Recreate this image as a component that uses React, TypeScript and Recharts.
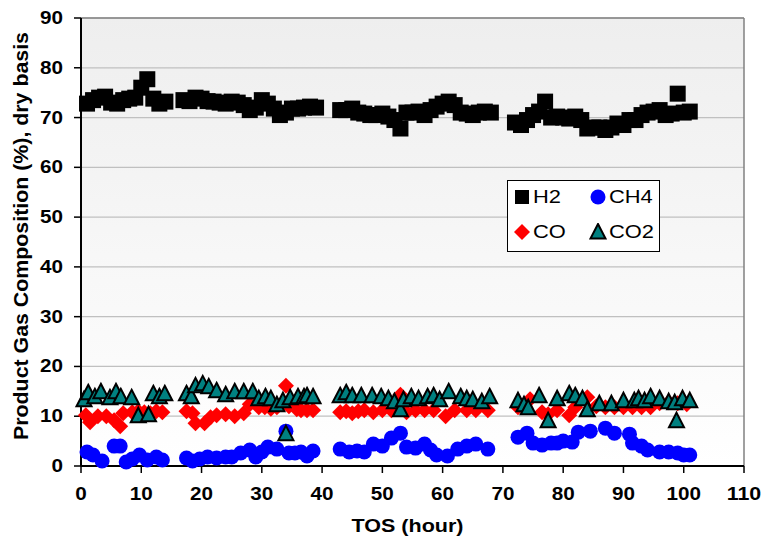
import { ScatterChart, Scatter, XAxis, YAxis, CartesianGrid, Legend, ReferenceLine } from 'recharts';

const FONT = '"Liberation Sans", Arial, sans-serif';

const h2Hours = [1, 2, 3, 4, 5, 6, 7, 8, 9, 10, 11, 12, 13, 14,
    17, 18, 19, 20, 21, 22, 23, 24, 25, 26, 27, 28, 29, 30, 31, 32, 33, 34, 35, 36, 37, 38, 39,
    43, 44, 45, 46, 47, 48, 49, 50, 51, 52, 53, 54, 55, 56, 57, 58, 59, 60, 61, 62, 63, 64, 65, 66, 67, 68,
    72, 73, 74, 75, 76, 77, 78, 79, 80, 81, 82, 83, 84, 85, 86, 87, 88, 89, 90, 91, 92, 93, 94, 95, 96, 97, 98, 99, 100, 101];
const h2Values = [72.8, 73.5, 74, 74.2, 73, 72.8, 73.5, 73.8, 74, 76, 77.7, 73.8, 72.8, 73.2,
    73.5, 73.3, 74, 73.8, 73.3, 73.2, 73, 72.8, 73.2, 73, 72.5, 71.5, 72, 73.5, 72.8, 71.8, 70.5, 71, 71.8, 71.8, 72, 72.2, 72,
    71.5, 71.5, 71.8, 71, 70.8, 70.5, 70.5, 70.8, 70.2, 69.5, 67.8, 71, 71, 71.2, 70.5, 71.5, 72.2, 72.8, 73.2, 72.5, 71, 70.8, 70.5, 71, 71.2, 71,
    69, 68.5, 69.5, 70.5, 71.2, 73.2, 70, 70.2, 70, 69.8, 70.2, 69.5, 67.8, 68, 68, 67.5, 68, 68.8, 68.5, 69.5, 69.5, 70.5, 71, 71.2, 71.5, 70.5, 70.8, 74.8, 71, 71.2];

const ch4Hours = [1, 2, 3.5, 5.5, 6.5, 7.5, 8.5, 9.7, 11, 12.5, 13.5,
    17.5, 18.5, 19.7, 21, 22.5, 24, 25, 26.5, 28, 29, 30, 31, 32.5, 34, 34.5, 35.5, 36.5, 37.5, 38.5,
    43, 44.5, 45.8, 47, 48.5, 50, 51.5, 53, 54, 55.5, 57, 58, 59, 60.8, 62.5, 64, 65.5, 67.5,
    72.5, 74, 75, 76.5, 78, 79, 80, 81.5, 82.5, 84.5, 87, 88.5, 91, 91.5, 93, 94, 96, 97.5, 99, 100, 101];
const ch4Values = [2.8, 2.2, 1.0, 4, 4, 0.8, 1.4, 2.2, 1.2, 1.8, 1.2,
    1.6, 1.0, 1.4, 1.8, 1.6, 1.8, 1.8, 2.6, 3.2, 1.8, 2.8, 3.8, 3.4, 7.0, 2.6, 2.6, 2.8, 2.0, 3.0,
    3.4, 2.8, 3.0, 2.8, 4.4, 4.0, 5.6, 6.6, 3.8, 3.6, 4.4, 3.2, 2.2, 2.0, 3.4, 4.0, 4.4, 3.4,
    5.8, 6.6, 4.6, 4.2, 4.6, 4.6, 5.0, 4.8, 6.8, 7.0, 7.6, 6.6, 6.4, 4.6, 4.0, 3.2, 2.8, 2.8, 2.6, 2.2, 2.2];

const coHours = [0.8, 1.5, 2.8, 4.2, 5.5, 6.5, 7, 8.5, 9.5, 10.5, 11.5, 12.5, 13.5,
    17.5, 18.5, 19, 20.5, 21.5, 22.5, 24, 25.5, 27, 28, 29.5, 30.5, 31.5, 32.5, 34, 34.5, 35.8, 36.5, 37.5, 38.5,
    43, 44, 45, 46, 47, 48.5, 50, 51.5, 53, 54, 55.5, 57, 58.5, 60.5, 62, 64, 65.5, 67.5,
    72.5, 74.5, 76.5, 77.5, 79, 81, 82, 84, 85.5, 87, 88.5, 90, 91.5, 93, 94.5, 96, 97.5, 99, 100.5];
const coValues = [10.2, 8.8, 10, 10, 9.2, 8, 10.6, 10.8, 11, 10.8, 10.6, 11, 10.8,
    11, 10.6, 8.6, 8.6, 9.8, 10.2, 10.4, 10, 10.6, 12.4, 11.8, 11.8, 11.5, 11.8, 16.1, 12, 11.4, 11.2, 11.2, 11.2,
    10.8, 11, 10.6, 11, 11.2, 10.8, 11.2, 11.2, 14.3, 10.8, 11.2, 11.2, 11.2, 10, 11.2, 11.2, 11.2, 11.2,
    11.8, 13.4, 10.8, 10.4, 11.2, 10.2, 11.8, 13.8, 12, 11.8, 11.8, 11.8, 11.8, 11.8, 11.8, 12.6, 12.8, 12.6, 12.4];

const co2Hours = [0.5, 1.2, 2.3, 3.3, 4.8, 5.8, 6.6, 8.4, 9.5, 11.2, 12, 13, 13.9,
    17.5, 18.3, 19, 20.2, 21.2, 22.5, 24, 25.5, 27, 28.5, 29.5, 30.6, 31.5, 32.5, 33.5, 34, 34.7, 36, 37, 37.5, 38.5,
    43, 44, 45, 46.5, 48.3, 49.8, 51, 52, 53, 53.5, 54.8, 56, 57.5, 58.5, 59.5, 61, 63, 64, 65, 66.5, 67.8,
    72.5, 73.5, 74.2, 76, 77.5, 79, 81, 82, 83.2, 84, 86, 88, 90, 91.8, 92.5, 93.5, 94.5, 96, 97.5, 98.5, 98.8, 99.8, 101];
const co2Values = [13.2, 14.6, 13.8, 14.8, 13.6, 14.8, 13.8, 13.6, 10, 10.2, 14.4, 13.8, 14.4,
    14.4, 13.8, 16, 16.4, 15.8, 15, 14.2, 14.8, 14.8, 14.8, 13.4, 13.8, 13.4, 12.2, 13, 6.4, 13.6, 13.8, 13.8, 14, 13.8,
    14, 14.6, 14, 14, 14, 13.8, 13.4, 12.8, 11.2, 13.2, 13.8, 13.4, 13.8, 14, 13.2, 14.8, 13.8, 13.4, 13.2, 12.8, 13.8,
    13, 12.2, 11.6, 14, 9, 13.4, 14.4, 14, 13.4, 11.2, 12.4, 12.4, 13, 13, 13.4, 13, 13.8, 13.4, 12.8, 12.6, 9, 13.4, 13];

const xTicks = [0, 10, 20, 30, 40, 50, 60, 70, 80, 90, 100, 110];
const yTicks = [0, 10, 20, 30, 40, 50, 60, 70, 80, 90];

const toPoints = (hours: number[], values: number[]) => hours.map((x, i) => ({ x, y: values[i] }));

// markers
const SquareMark = ({ cx, cy }: any) => <rect x={cx - 8} y={cy - 8} width={16} height={16} fill="#000" />;
const CircleMark = ({ cx, cy }: any) => <circle cx={cx} cy={cy} r={7.5} fill="#0000ff" />;
const DiamondMark = ({ cx, cy }: any) => (
    <polygon points={`${cx},${cy - 8} ${cx + 8},${cy} ${cx},${cy + 8} ${cx - 8},${cy}`} fill="#ff0000" />
);
const TriangleMark = ({ cx, cy }: any) => (
    <polygon points={`${cx},${cy - 8.5} ${cx + 7.5},${cy + 6} ${cx - 7.5},${cy + 6}`} fill="#008080" stroke="#000" strokeWidth={2} />
);

function XTick({ x, y, payload }: any) {
    const s = String(payload.value);
    return (
        <text x={x} y={y + 25} textAnchor="middle" fontFamily={FONT} fontWeight="bold" fontSize={18} fill="#000"
            textLength={s.length * 11.5} lengthAdjust="spacingAndGlyphs">{s}</text>
    );
}

function YTick({ x, y, payload }: any) {
    const s = String(payload.value);
    return (
        <text x={x - 9} y={y + 6} textAnchor="end" fontFamily={FONT} fontWeight="bold" fontSize={18} fill="#000"
            textLength={s.length * 11.5} lengthAdjust="spacingAndGlyphs">{s}</text>
    );
}

function LegendMark({ kind }: { kind: string }) {
    return (
        <svg width={18} height={18} style={{ position: 'absolute', left: 0, top: 0 }}>
            {kind === 'square' && <rect x={2} y={2} width={14} height={14} fill="#000" />}
            {kind === 'circle' && <circle cx={9} cy={9} r={7.5} fill="#0000ff" />}
            {kind === 'diamond' && <DiamondMark cx={9} cy={9} />}
            {kind === 'triangle' && <TriangleMark cx={9} cy={9.5} />}
        </svg>
    );
}

function LegendItem({ left, top, kind, label }: any) {
    return (
        <div style={{ position: 'absolute', left, top, height: 18 }}>
            <LegendMark kind={kind} />
            <span style={{ position: 'absolute', left: 20, top: -3, fontSize: 19, lineHeight: '24px', whiteSpace: 'nowrap', transform: 'scaleX(1.15)', transformOrigin: 'left center' }}>{label}</span>
        </div>
    );
}

function GasLegend() {
    return (
        <div style={{ position: 'relative', width: 153, height: 72, border: '1.5px solid #000', background: '#fff', boxSizing: 'border-box', fontFamily: FONT, color: '#000' }}>
            <LegendItem left={5} top={7} kind="square" label="H2" />
            <LegendItem left={81} top={7} kind="circle" label="CH4" />
            <LegendItem left={5} top={42} kind="diamond" label="CO" />
            <LegendItem left={81} top={42} kind="triangle" label="CO2" />
        </div>
    );
}

export default function App() {
    return (
        <div style={{ position: 'absolute', left: 0, top: 0, width: 765, height: 542, background: '#fff' }}>
            <ScatterChart width={765} height={542} margin={{ top: 18, right: 21, bottom: 0, left: 0 }}>
                <defs>
                    <linearGradient id="plotBg" x1="0" y1="0" x2="0" y2="1">
                        <stop offset="0%" stopColor="#eeeeee" />
                        <stop offset="100%" stopColor="#ffffff" />
                    </linearGradient>
                </defs>
                <CartesianGrid vertical={false} stroke="#c0c0c0" strokeWidth={1.2} fill="url(#plotBg)" fillOpacity={1} />
                <XAxis type="number" dataKey="x" domain={[0, 110]} ticks={xTicks} height={76} interval={0}
                    axisLine={{ stroke: '#000', strokeWidth: 2 }} tickLine={{ stroke: '#000', strokeWidth: 1.5 }} tickSize={7}
                    tick={<XTick />}
                    label={({ viewBox }: any) => (
                        <text x={viewBox.x + viewBox.width / 2 - 5} y={viewBox.y + 66} textAnchor="middle" fontFamily={FONT}
                            fontWeight="bold" fontSize={19} fill="#000" textLength={112} lengthAdjust="spacingAndGlyphs">TOS (hour)</text>
                    )} />
                <YAxis type="number" dataKey="y" domain={[0, 90]} ticks={yTicks} width={81} interval={0}
                    axisLine={{ stroke: '#000', strokeWidth: 2 }} tickLine={{ stroke: '#000', strokeWidth: 1.5 }} tickSize={7}
                    tick={<YTick />}
                    label={({ viewBox }: any) => {
                        const cx = 28;
                        const cy = viewBox.y + viewBox.height / 2 - 6;
                        return (
                            <text x={cx} y={cy} transform={`rotate(-90, ${cx}, ${cy})`} textAnchor="middle" fontFamily={FONT}
                                fontWeight="bold" fontSize={20} fill="#000" textLength={408} lengthAdjust="spacingAndGlyphs">
                                Product Gas Composition (%), dry basis
                            </text>
                        );
                    }} />
                <ReferenceLine y={90} stroke="#808080" strokeWidth={1.5} />
                <ReferenceLine x={110} stroke="#808080" strokeWidth={1.5} />
                <Scatter name="H2" data={toPoints(h2Hours, h2Values)} shape={SquareMark} isAnimationActive={false} />
                <Scatter name="CH4" data={toPoints(ch4Hours, ch4Values)} shape={CircleMark} isAnimationActive={false} />
                <Scatter name="CO" data={toPoints(coHours, coValues)} shape={DiamondMark} isAnimationActive={false} />
                <Scatter name="CO2" data={toPoints(co2Hours, co2Values)} shape={TriangleMark} isAnimationActive={false} />
                <Legend layout="horizontal" verticalAlign="middle" align="center" content={() => <GasLegend />}
                    wrapperStyle={{ left: 507, top: 180, width: 153, height: 72 }} />
            </ScatterChart>
        </div>
    );
}
